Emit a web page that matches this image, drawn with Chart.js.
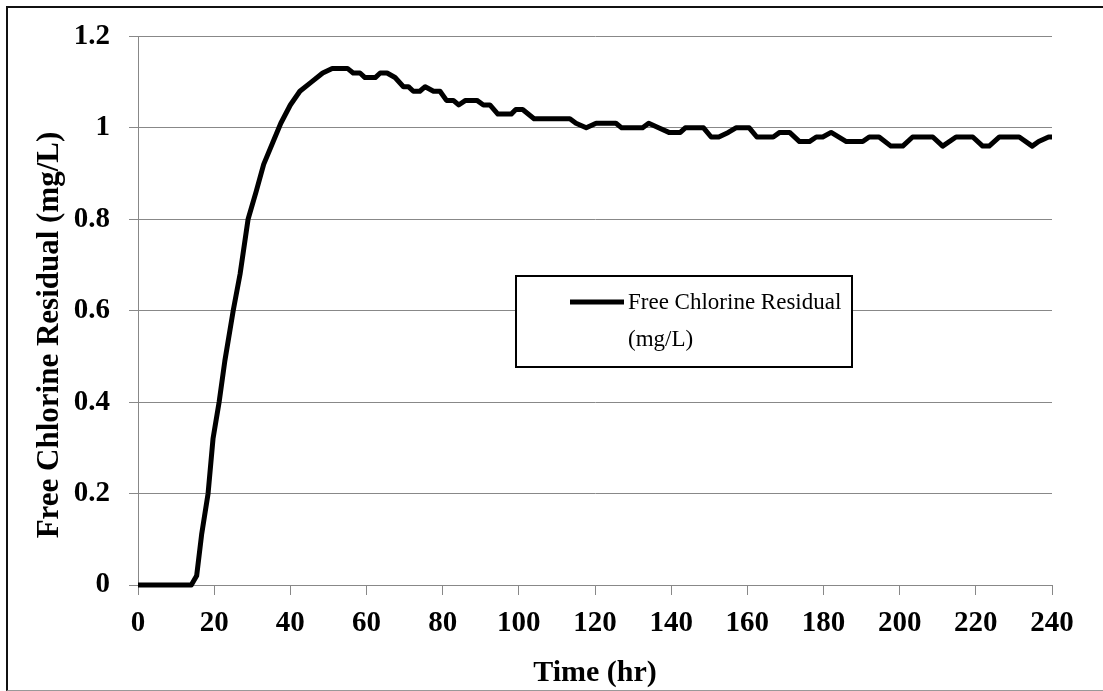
<!DOCTYPE html>
<html>
  <head>
    <meta charset="UTF-8" />
    <title>Free Chlorine Residual</title>
    <script src="https://cdn.jsdelivr.net/npm/chart.js"></script>
    <style>
      body {
        margin: 0;
        background: #fff;
      }
      #wrap {
        position: relative;
        width: 1103px;
        height: 691px;
      }
      #frame {
        position: absolute;
        left: 6px;
        top: 6px;
        width: 1110px;
        height: 682px;
        border-left: 2px solid #111;
        border-top: 2px solid #111;
        border-bottom: 1px solid #999;
        pointer-events: none;
      }
    </style>
  </head>
  <body>
    <div id="wrap">
      <canvas id="chlorineChart" width="1103" height="691"></canvas>
      <div id="frame"></div>
    </div>
  </body>
  <script>
    // values (time in hr, residual in mg/L)
    const hours = [
      0, 14, 15.4, 16.7, 18.4, 19.7, 21.3, 22.8, 25, 26.8, 28.9, 31, 33, 35.5,
      37.5, 40, 42.5, 45.5, 48.5, 51, 55, 56.5, 58.3, 59.6, 62.3, 63.6, 65.4,
      67.5, 69.7, 71, 72.3, 74, 75.4, 77.6, 79.3, 81, 82.8, 84.2, 86, 89, 90.7,
      92.4, 94.5, 98, 99.2, 101, 104, 113.4, 115, 117.7, 120.3, 125.5, 127,
      132.5, 134.1, 136.7, 139.4, 142.4, 143.7, 148.5, 150.5, 152.5, 155, 157,
      160.5, 162.5, 166.8, 168.5, 171.1, 173.7, 176.3, 178.1, 179.8, 182, 186,
      190.3, 192, 194.6, 197.7, 200.8, 203.4, 208.7, 211.3, 214.8, 219.2,
      221.8, 223.5, 226.2, 231.4, 234.8, 236.5, 239.1, 240,
    ];
    const chlorine = [
      0, 0, 0.02, 0.11, 0.2, 0.32, 0.4, 0.49, 0.6, 0.68, 0.8, 0.86, 0.92, 0.97,
      1.01, 1.05, 1.08, 1.1, 1.12, 1.13, 1.13, 1.12, 1.12, 1.11, 1.11, 1.12,
      1.12, 1.11, 1.09, 1.09, 1.08, 1.08, 1.09, 1.08, 1.08, 1.06, 1.06, 1.05,
      1.06, 1.06, 1.05, 1.05, 1.03, 1.03, 1.04, 1.04, 1.02, 1.02, 1.01, 1.0,
      1.01, 1.01, 1.0, 1.0, 1.01, 1.0, 0.99, 0.99, 1.0, 1.0, 0.98, 0.98, 0.99,
      1.0, 1.0, 0.98, 0.98, 0.99, 0.99, 0.97, 0.97, 0.98, 0.98, 0.99, 0.97,
      0.97, 0.98, 0.98, 0.96, 0.96, 0.98, 0.98, 0.96, 0.98, 0.98, 0.96, 0.96,
      0.98, 0.98, 0.96, 0.97, 0.98, 0.98,
    ];
    const seriesName = ["Free Chlorine Residual", "(mg/L)"];
    const yTitle = "Free Chlorine Residual (mg/L)";
    const xTitle = "Time (hr)";

    const points = hours.map((h, i) => ({ x: h, y: chlorine[i] }));
    const serif = "'Liberation Serif', 'Times New Roman', serif";

    // y title (sits a bit below centre like the original) + boxed legend
    const extras = {
      id: "extras",
      afterDraw(chart) {
        const ctx = chart.ctx;
        ctx.save();
        ctx.fillStyle = "#000";
        ctx.font = "bold 31px " + serif;
        ctx.textAlign = "center";
        ctx.textBaseline = "middle";
        ctx.translate(50, 335);
        ctx.rotate(-Math.PI / 2);
        ctx.fillText(yTitle, 0, 0);
        ctx.restore();

        ctx.save();
        ctx.fillStyle = "#fff";
        ctx.fillRect(516, 276, 336, 91);
        ctx.strokeStyle = "#000";
        ctx.lineWidth = 2;
        ctx.strokeRect(516, 276, 336, 91);
        ctx.beginPath();
        ctx.lineWidth = 5;
        ctx.moveTo(570, 302);
        ctx.lineTo(624, 302);
        ctx.stroke();
        ctx.fillStyle = "#000";
        ctx.font = "23px " + serif;
        ctx.textAlign = "left";
        ctx.textBaseline = "middle";
        ctx.fillText(seriesName[0], 628, 303);
        ctx.fillText(seriesName[1], 628, 340);
        ctx.restore();
      },
    };

    const ctx = document.getElementById("chlorineChart").getContext("2d");
    new Chart(ctx, {
      type: "line",
      data: {
        datasets: [
          {
            label: seriesName.join(" "),
            data: points,
            borderColor: "#000",
            borderWidth: 5,
            pointRadius: 0,
            tension: 0,
            clip: false,
            borderJoinStyle: "round",
          },
        ],
      },
      options: {
        responsive: false,
        animation: false,
        layout: {
          padding: { top: 34, right: 51, left: 0, bottom: 0 },
        },
        plugins: {
          legend: { display: false },
          tooltip: { enabled: false },
        },
        scales: {
          x: {
            type: "linear",
            min: 0,
            max: 240,
            afterFit: (scale) => {
              scale.height = 106;
            },
            ticks: {
              stepSize: 20,
              color: "#000",
              padding: 11,
              maxRotation: 0,
              font: { family: serif, size: 29, weight: "bold" },
            },
            grid: {
              drawOnChartArea: false,
              color: "#888",
              tickLength: 10,
            },
            border: { color: "#888" },
            title: {
              display: true,
              text: xTitle,
              color: "#000",
              padding: { top: 5, bottom: 0 },
              font: { family: serif, size: 30, weight: "bold" },
            },
          },
          y: {
            min: 0,
            max: 1.2,
            afterFit: (scale) => {
              scale.width = 138;
            },
            ticks: {
              stepSize: 0.2,
              color: "#000",
              padding: 19,
              font: { family: serif, size: 29, weight: "bold" },
              callback: (value) => String(Number(value.toFixed(1))),
            },
            grid: {
              color: "#888",
              tickLength: 9,
            },
            border: { color: "#888" },
          },
        },
      },
      plugins: [extras],
    });
  </script>
</html>
